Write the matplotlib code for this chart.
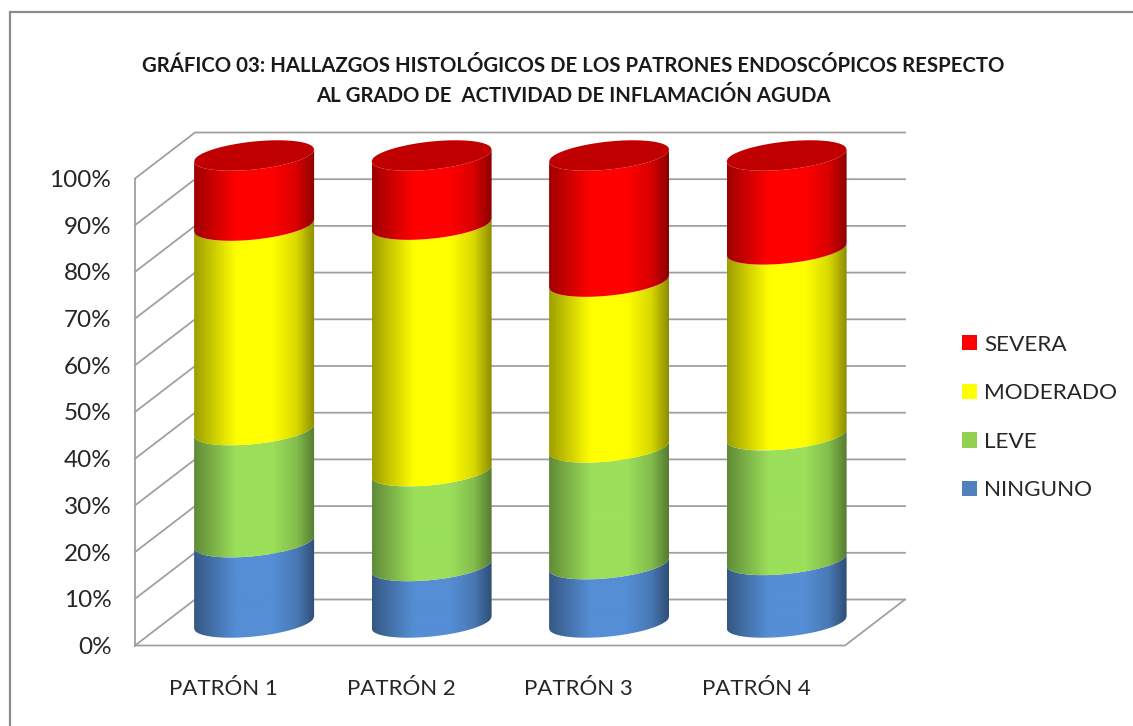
import numpy as np
import matplotlib
matplotlib.use('Agg')
import matplotlib.pyplot as plt
from matplotlib.patches import Patch, Polygon, Rectangle

plt.rcParams['font.family'] = ['Lato', 'DejaVu Sans']

# Datos (porcentaje acumulado)
patrones = ['PATRÓN 1', 'PATRÓN 2', 'PATRÓN 3', 'PATRÓN 4']
ninguno = [17.2, 12.1, 12.5, 13.4]
leve = [24.0, 20.3, 25.0, 26.7]
moderado = [43.8, 52.8, 35.5, 39.8]
severa = [15.0, 14.8, 27.0, 20.1]
ticks_y = [0, 10, 20, 30, 40, 50, 60, 70, 80, 90, 100]

W, H = 1133, 726
fig = plt.figure(figsize=(W / 100, H / 100), dpi=100)
fig.patch.set_facecolor('white')

# marco exterior
fig.add_artist(Rectangle((10 / W, -0.1), 1.2, 1.1 - 12 / H, transform=fig.transFigure,
                         facecolor='none', edgecolor='#8c8c8c', linewidth=1.6))

# el eje cubre el plano frontal del grafico
left, right, bottom, top = 135, 845, 645.5, 178.5
ax = fig.add_axes([left / W, 1 - bottom / H, (right - left) / W, (bottom - top) / H])
ax.set_xlim(-0.5, 3.5)
ax.set_ylim(0, 100)
ax.patch.set_alpha(0)
for s in ax.spines.values():
    s.set_visible(False)

px_x = (right - left) / 4
px_y = (bottom - top) / 100
fondo_x = 60 / px_x
fondo_y = 46 / px_y

# paredes y lineas de division
gris = '#a0a0a0'
lw = 1.3
for v in ticks_y:
    ax.plot([-0.5, -0.5 + fondo_x, 3.5 + fondo_x], [v, v + fondo_y, v + fondo_y],
            color=gris, lw=lw, clip_on=False, zorder=1)
ax.plot([-0.5, -0.5], [0, 100], color=gris, lw=lw, clip_on=False, zorder=1)
ax.plot([-0.5, 3.5, 3.5 + fondo_x], [0, 0, fondo_y], color=gris, lw=lw, clip_on=False, zorder=1)

# cilindros
colores = ['#558ed5', '#9bdf5a', '#ffff00', '#ff0000']
colores_leyenda = ['#4f81bd', '#92d050', '#ffff00', '#ff0000']
nombres = ['NINGUNO', 'LEVE', 'MODERADO', 'SEVERA']
series = [ninguno, leve, moderado, severa]

u = np.linspace(-1, 1, 121)
radio_x = 60 / px_x
radio_y = 14 / px_y
incl = 6 / px_y
cx_off = fondo_x / 2 + 0.002
cy_off = fondo_y / 2

col_u = np.linspace(-1, 1, 240)
sombra = np.interp(col_u, [-1, -0.75, -0.3, 0.3, 0.7, 1], [0.62, 0.76, 1, 1, 0.85, 0.55])


def frente(cx, v):
    return cx + radio_x * u, v + cy_off + incl * u - radio_y * np.sqrt(1 - u ** 2)


def atras(cx, v):
    return cx + radio_x * u, v + cy_off + incl * u + radio_y * np.sqrt(1 - u ** 2)


for i in range(len(patrones)):
    cx = i + cx_off
    base = 0
    for vals, c in zip(series, colores):
        sup = base + vals[i]
        x0, y0 = frente(cx, base)
        x1, y1 = frente(cx, sup)
        pts = np.column_stack([np.r_[x0, x1[::-1]], np.r_[y0, y1[::-1]]])
        rgb = np.array(matplotlib.colors.to_rgb(c))
        img = (sombra[None, :, None] * rgb[None, None, :])
        y_min, y_max = pts[:, 1].min(), pts[:, 1].max()
        im = ax.imshow(img, extent=[cx - radio_x, cx + radio_x, y_min, y_max],
                       aspect='auto', interpolation='bilinear', zorder=3)
        clip = Polygon(pts, closed=True, transform=ax.transData, facecolor='none', edgecolor='none')
        ax.add_patch(clip)
        im.set_clip_box(fig.bbox)
        im.set_clip_path(clip)
        base = sup
    # tapa superior
    x0, y0 = frente(cx, base)
    x1, y1 = atras(cx, base)
    ax.fill(np.r_[x0, x1[::-1]], np.r_[y0, y1[::-1]], color='#c00000', lw=0, zorder=4, clip_on=False)

ax.set_xlim(-0.5, 3.5)
ax.set_ylim(0, 100)

# etiquetas
ax.set_xticks(range(len(patrones)))
ax.set_xticklabels(patrones, fontsize=16, color='#262626')
ax.set_yticks(ticks_y)
ax.set_yticklabels([f'{v}%' for v in ticks_y], fontsize=17.5, color='#262626')
ax.tick_params(axis='both', length=0)
ax.tick_params(axis='x', pad=24)
ax.tick_params(axis='y', pad=17)

# titulo
fig.text(573 / W, 1 - 66 / H, 'GRÁFICO 03: HALLAZGOS HISTOLÓGICOS DE LOS PATRONES ENDOSCÓPICOS RESPECTO',
         ha='center', va='center', fontsize=14.7, fontweight='bold', color='#1a1a1a')
fig.text(573 / W, 1 - 96 / H, 'AL GRADO DE  ACTIVIDAD DE INFLAMACIÓN AGUDA',
         ha='center', va='center', fontsize=14.7, fontweight='bold', color='#1a1a1a')

# leyenda
handles = [Patch(facecolor=c, edgecolor='none', label=n) for c, n in zip(colores_leyenda, nombres)][::-1]
fig.legend(handles=handles, loc='upper left', bbox_to_anchor=(955 / W, 1 - 328 / H), frameon=False,
           fontsize=16.2, labelcolor='#262626', handlelength=0.66, handleheight=0.66,
           handletextpad=0.34, labelspacing=1.27, borderpad=0.3, borderaxespad=0)

fig.savefig('out.png', dpi=100)
